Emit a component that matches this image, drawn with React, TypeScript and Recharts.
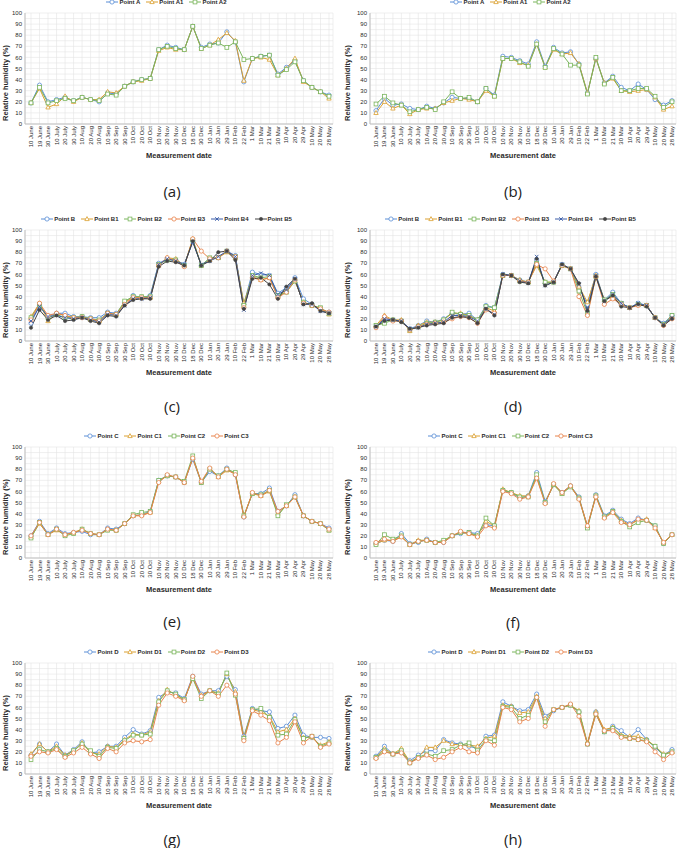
import { LineChart, Line, XAxis, YAxis, CartesianGrid, Legend } from 'recharts';

const dates = [
  '10 June', '19 June', '30 June', '10 July', '20 July', '30 July', '10 Aug', '20 Aug', '30 Aug',
  '10 Sep', '20 Sep', '30 Sep', '10 Oct', '20 Oct', '30 Oct', '10 Nov', '20 Nov', '30 Nov',
  '10 Dec', '18 Dec', '30 Dec', '10 Jan', '20 Jan', '29 Jan', '10 Feb', '22 Feb', '1 Mar',
  '10 Mar', '21 Mar', '30 Mar', '10 Apr', '20 Apr', '29 Apr', '10 May', '20 May', '28 May',
];

const yTicks = [0, 5, 10, 15, 20, 25, 30, 35, 40, 45, 50, 55, 60, 65, 70, 75, 80, 85, 90, 95, 100];

// (a)
const aA = [19, 35, 20, 22, 24, 21, 24, 22, 20, 28, 27, 34, 38, 40, 41, 67, 71, 69, 67, 88, 69, 72, 73, 83, 74, 38, 59, 61, 62, 45, 51, 57, 39, 33, 29, 26];
const aA1 = [19, 32, 15, 18, 25, 20, 24, 22, 22, 29, 28, 34, 38, 39, 41, 66, 69, 67, 67, 88, 68, 71, 76, 82, 75, 39, 59, 60, 58, 44, 50, 59, 38, 33, 29, 23];
const aA2 = [19, 33, 19, 21, 23, 21, 24, 22, 21, 27, 26, 34, 38, 40, 41, 67, 70, 68, 67, 88, 68, 71, 73, 69, 74, 58, 59, 61, 62, 44, 49, 56, 39, 33, 29, 25];

// (b)
const bA = [12, 23, 17, 18, 14, 13, 16, 14, 19, 24, 23, 23, 20, 32, 26, 61, 60, 57, 54, 74, 52, 69, 64, 65, 54, 28, 59, 37, 43, 33, 30, 36, 31, 22, 17, 21];
const bA1 = [10, 20, 14, 17, 9, 13, 14, 14, 19, 21, 23, 22, 20, 30, 25, 59, 59, 55, 53, 72, 51, 67, 63, 64, 54, 28, 59, 37, 41, 30, 29, 30, 31, 24, 13, 16];
const bA2 = [18, 25, 19, 17, 11, 13, 15, 13, 20, 29, 23, 24, 20, 32, 25, 59, 59, 56, 52, 72, 51, 68, 63, 53, 53, 27, 60, 36, 42, 30, 30, 32, 32, 25, 15, 20];

// (c)
const cB = [16, 32, 22, 25, 25, 22, 22, 21, 21, 26, 25, 34, 41, 39, 41, 70, 74, 73, 69, 90, 68, 74, 75, 81, 77, 33, 62, 60, 59, 43, 48, 57, 38, 33, 28, 26];
const cB1 = [22, 34, 18, 25, 23, 21, 22, 19, 18, 25, 24, 35, 39, 39, 39, 68, 75, 74, 68, 92, 68, 73, 75, 80, 75, 34, 58, 55, 57, 40, 45, 54, 35, 32, 29, 24];
const cB2 = [21, 33, 21, 24, 21, 21, 22, 20, 19, 25, 24, 36, 40, 40, 40, 69, 73, 73, 68, 91, 68, 75, 75, 81, 76, 32, 59, 57, 58, 41, 44, 54, 35, 32, 30, 25];
const cB3 = [19, 34, 23, 25, 23, 21, 21, 20, 18, 25, 24, 33, 39, 39, 39, 68, 75, 72, 67, 92, 81, 74, 75, 81, 76, 30, 57, 55, 57, 39, 44, 55, 34, 32, 29, 26];
const cB4 = [18, 31, 22, 23, 21, 20, 21, 19, 17, 24, 23, 32, 38, 38, 39, 69, 74, 72, 69, 89, 69, 72, 76, 81, 76, 28, 59, 61, 59, 42, 46, 56, 33, 33, 27, 25];
const cB5 = [12, 28, 19, 23, 18, 19, 21, 18, 16, 23, 22, 32, 37, 38, 38, 67, 72, 71, 68, 90, 68, 72, 80, 81, 73, 29, 56, 57, 51, 38, 49, 56, 33, 34, 27, 25];

// (d)
const dB = [13, 18, 19, 18, 11, 14, 18, 17, 20, 25, 24, 25, 19, 32, 30, 60, 59, 55, 53, 73, 52, 53, 69, 65, 48, 33, 60, 37, 44, 34, 30, 34, 32, 21, 16, 23];
const dB1 = [14, 23, 19, 19, 9, 14, 17, 17, 19, 25, 25, 23, 19, 30, 27, 59, 59, 55, 53, 68, 53, 53, 68, 65, 49, 35, 59, 37, 40, 33, 30, 33, 32, 21, 15, 22];
const dB2 = [14, 16, 19, 18, 10, 13, 16, 17, 19, 26, 24, 23, 19, 31, 30, 59, 59, 54, 53, 70, 53, 53, 68, 65, 45, 25, 58, 37, 42, 34, 30, 33, 32, 21, 15, 23];
const dB3 = [12, 22, 18, 18, 10, 13, 15, 16, 17, 20, 22, 21, 16, 28, 25, 59, 59, 54, 53, 69, 65, 54, 68, 65, 40, 23, 58, 33, 38, 33, 30, 32, 32, 21, 14, 20];
const dB4 = [13, 20, 19, 18, 11, 12, 15, 16, 17, 23, 23, 22, 18, 29, 24, 60, 59, 54, 52, 76, 50, 53, 69, 65, 51, 29, 59, 36, 42, 34, 30, 34, 32, 21, 15, 21];
const dB5 = [13, 18, 19, 17, 11, 12, 14, 15, 16, 21, 22, 21, 16, 29, 23, 60, 59, 53, 52, 74, 50, 53, 69, 65, 52, 27, 58, 36, 41, 31, 30, 33, 31, 21, 14, 20];

// (e)
const eC = [20, 33, 22, 27, 22, 23, 24, 21, 21, 27, 26, 31, 38, 39, 42, 70, 74, 73, 68, 89, 68, 78, 74, 81, 75, 37, 58, 58, 63, 42, 47, 57, 38, 33, 31, 27];
const eC1 = [19, 31, 21, 25, 21, 23, 26, 22, 21, 26, 25, 31, 38, 39, 41, 69, 74, 73, 68, 90, 68, 80, 73, 79, 76, 38, 58, 56, 60, 40, 47, 55, 38, 33, 31, 25];
const eC2 = [18, 32, 21, 26, 20, 22, 26, 22, 21, 25, 25, 31, 39, 41, 42, 70, 74, 73, 69, 92, 68, 80, 74, 80, 77, 38, 58, 57, 61, 38, 48, 55, 38, 33, 31, 25];
const eC3 = [20, 32, 21, 26, 21, 23, 25, 22, 21, 26, 25, 31, 38, 38, 41, 68, 75, 73, 68, 90, 69, 81, 73, 80, 75, 37, 59, 56, 61, 42, 47, 55, 38, 33, 31, 26];

// (f)
const fC = [13, 16, 15, 22, 13, 14, 17, 14, 14, 20, 22, 23, 22, 30, 29, 61, 59, 54, 56, 77, 51, 66, 59, 65, 55, 28, 57, 38, 43, 35, 31, 36, 34, 29, 13, 21];
const fC1 = [13, 16, 16, 19, 12, 16, 16, 14, 15, 20, 23, 22, 20, 33, 29, 62, 59, 56, 56, 73, 50, 66, 58, 65, 54, 29, 56, 37, 42, 34, 30, 34, 35, 27, 14, 21];
const fC2 = [12, 21, 17, 20, 12, 15, 16, 14, 16, 20, 23, 23, 20, 36, 29, 61, 59, 55, 55, 75, 50, 66, 58, 64, 54, 27, 56, 37, 42, 33, 28, 32, 34, 29, 13, 21];
const fC3 = [14, 17, 15, 19, 12, 15, 16, 14, 14, 20, 24, 22, 19, 29, 27, 60, 58, 53, 55, 72, 49, 67, 59, 65, 53, 29, 55, 36, 41, 32, 30, 35, 34, 27, 14, 21];

// (g)
const gD = [17, 27, 20, 27, 17, 22, 29, 19, 20, 25, 25, 33, 40, 36, 39, 69, 74, 73, 68, 88, 72, 75, 75, 88, 76, 34, 59, 57, 56, 41, 43, 53, 35, 33, 33, 32];
const gD1 = [18, 27, 20, 25, 17, 21, 28, 19, 18, 25, 24, 31, 36, 35, 38, 66, 76, 71, 67, 86, 71, 75, 73, 90, 74, 33, 58, 56, 52, 38, 40, 50, 33, 33, 26, 29];
const gD2 = [13, 22, 20, 23, 16, 21, 27, 21, 16, 24, 23, 30, 35, 35, 36, 65, 75, 72, 67, 86, 68, 75, 72, 91, 71, 32, 58, 59, 51, 35, 36, 49, 32, 34, 25, 28];
const gD3 = [16, 20, 19, 22, 15, 19, 24, 18, 14, 23, 20, 28, 30, 29, 31, 62, 73, 70, 66, 88, 70, 75, 70, 80, 72, 30, 57, 53, 48, 28, 33, 47, 28, 34, 24, 27];

// (h)
const hD = [16, 25, 18, 20, 12, 17, 21, 21, 31, 28, 27, 25, 23, 34, 35, 65, 61, 57, 58, 72, 52, 57, 60, 62, 56, 27, 56, 38, 43, 39, 33, 40, 31, 24, 17, 22];
const hD1 = [15, 23, 18, 23, 11, 15, 24, 24, 30, 27, 26, 26, 25, 32, 34, 62, 61, 55, 56, 70, 50, 58, 60, 62, 57, 28, 56, 40, 42, 35, 34, 34, 31, 25, 18, 20];
const hD2 = [15, 21, 18, 21, 10, 15, 18, 16, 21, 22, 26, 28, 21, 31, 30, 61, 60, 50, 53, 69, 47, 58, 60, 62, 56, 27, 54, 38, 41, 34, 32, 31, 30, 25, 17, 20];
const hD3 = [14, 20, 18, 19, 10, 14, 17, 13, 15, 20, 24, 20, 19, 30, 26, 60, 58, 47, 50, 69, 43, 58, 60, 63, 52, 27, 54, 39, 39, 33, 32, 31, 29, 20, 13, 19];

const FONT = '"Liberation Sans", Arial, sans-serif';
const BLUE = '#5b8ed6';
const GOLD = '#dba030';
const GREEN = '#7ab55c';
const ORANGE = '#e8824a';
const NAVY = '#3a5ca8';
const DARK = '#444444';
const TXT = '#2a2a2a';

type Shape = 'circle' | 'triangle' | 'square' | 'x' | 'dot';
type Series = { name: string; values: number[]; color: string; shape: Shape };

function marker(shape: Shape, color: string, cx: number, cy: number, key?: any) {
  if (shape === 'circle')
    return <circle key={key} cx={cx} cy={cy} r={2.1} fill="#fff" stroke={color} strokeWidth={0.8} />;
  if (shape === 'triangle')
    return (
      <polygon key={key} points={`${cx},${cy - 2.4} ${cx + 2.2},${cy + 1.6} ${cx - 2.2},${cy + 1.6}`}
        fill="#fff" stroke={color} strokeWidth={0.8} />
    );
  if (shape === 'square')
    return <rect key={key} x={cx - 1.9} y={cy - 1.9} width={3.8} height={3.8} fill="#fff" stroke={color} strokeWidth={0.8} />;
  if (shape === 'x')
    return (
      <path key={key} d={`M${cx - 1.8},${cy - 1.8}L${cx + 1.8},${cy + 1.8}M${cx - 1.8},${cy + 1.8}L${cx + 1.8},${cy - 1.8}`}
        stroke={color} strokeWidth={0.9} />
    );
  return <circle key={key} cx={cx} cy={cy} r={1.7} fill={color} stroke={color} strokeWidth={0.5} />;
}

const makeDot = (s: Series) => (p: any) => {
  if (p.cx == null || p.cy == null) return <g key={p.index} />;
  return marker(s.shape, s.color, p.cx, p.cy, p.index);
};

const XTick = (p: any) => (
  <text x={p.x} y={p.y} transform={`rotate(-90 ${p.x} ${p.y})`} textAnchor="end" dominantBaseline="central"
    fontSize={6} fill={TXT} fontFamily={FONT}>
    {p.payload.value}
  </text>
);

function LegendRow({ series }: { series: Series[] }) {
  return (
    <div style={{ display: 'flex', justifyContent: 'center', alignItems: 'center', height: 12, gap: 6,
      fontFamily: FONT, fontSize: 6, fontWeight: 'bold', color: TXT }}>
      {series.map((s) => (
        <div key={s.name} style={{ display: 'flex', alignItems: 'center' }}>
          <svg width={12} height={6}>
            <line x1={0} y1={3} x2={12} y2={3} stroke={s.color} strokeWidth={1} />
            {marker(s.shape, s.color, 6, 3)}
          </svg>
          <span style={{ marginLeft: 1 }}>{s.name}</span>
        </div>
      ))}
    </div>
  );
}

type PanelProps = {
  series: Series[]; left: number; top: number; width: number;
  ml: number; mr: number; yTitleX: number; tag: string; tagX: number; tagY: number;
};

function Panel({ series, left, top, width, ml, mr, yTitleX, tag, tagX, tagY }: PanelProps) {
  const rows = dates.map((d, i) => {
    const r: any = { date: d };
    series.forEach((s) => { r[s.name] = s.values[i]; });
    return r;
  });
  return (
    <>
      <div style={{ position: 'absolute', left, top }}>
        <LineChart width={width} height={164} data={rows} margin={{ top: 1, right: mr, bottom: 0, left: ml }}>
          <CartesianGrid stroke="#e4e4e4" strokeWidth={0.6} />
          <XAxis dataKey="date" interval={0} tick={XTick} tickLine={false} tickSize={0} tickMargin={2}
            axisLine={{ stroke: '#bfbfbf' }} height={40} padding={{ left: 6, right: 4 }}
            label={(lp: any) => {
              const vb = lp.viewBox;
              return (
                <text x={vb.x + vb.width / 2} y={vb.y + 31} textAnchor="middle" dominantBaseline="central"
                  fontFamily={FONT} fontSize={7.5} fontWeight="bold" fill={TXT}>Measurement date</text>
              );
            }} />
          <XAxis xAxisId="top" orientation="top" dataKey="date" tick={false} tickLine={false} height={0}
            axisLine={{ stroke: '#bfbfbf' }} />
          <YAxis domain={[0, 100]} ticks={yTicks} interval={0} width={25} tickLine={false} tickSize={0} tickMargin={3}
            tickFormatter={(v: number) => (v % 10 === 0 ? String(v) : '')}
            tick={{ fontSize: 6, fill: TXT, fontFamily: FONT }} axisLine={{ stroke: '#bfbfbf' }}
            label={(lp: any) => {
              const vb = lp.viewBox;
              const cy = vb.y + 70;
              return (
                <text x={yTitleX} y={cy} transform={`rotate(-90 ${yTitleX} ${cy})`} textAnchor="middle"
                  dominantBaseline="central" fontFamily={FONT} fontSize={7.5} fontWeight="bold" fill={TXT}>
                  Relative humidity (%)
                </text>
              );
            }} />
          <YAxis yAxisId="r" orientation="right" domain={[0, 100]} tick={false} tickLine={false} width={0}
            axisLine={{ stroke: '#bfbfbf' }} />
          <Legend verticalAlign="top" height={12} wrapperStyle={{ top: -4 }}
            content={() => <LegendRow series={series} />} />
          {series.map((s) => (
            <Line key={s.name} dataKey={s.name} type="linear" stroke={s.color} strokeWidth={1}
              dot={makeDot(s)} activeDot={false} isAnimationActive={false} />
          ))}
        </LineChart>
      </div>
      <div style={{ position: 'absolute', left: tagX - 30, width: 60, top: tagY - 11, textAlign: 'center',
        fontFamily: '"Open Sans", sans-serif', fontSize: 15, color: '#222' }}>
        {tag}
      </div>
    </>
  );
}

const sA = (a: number[], a1: number[], a2: number[]): Series[] => [
  { name: 'Point A', values: a, color: BLUE, shape: 'circle' },
  { name: 'Point A1', values: a1, color: GOLD, shape: 'triangle' },
  { name: 'Point A2', values: a2, color: GREEN, shape: 'square' },
];
const sB = (v: number[][]): Series[] => [
  { name: 'Point B', values: v[0], color: BLUE, shape: 'circle' },
  { name: 'Point B1', values: v[1], color: GOLD, shape: 'triangle' },
  { name: 'Point B2', values: v[2], color: GREEN, shape: 'square' },
  { name: 'Point B3', values: v[3], color: ORANGE, shape: 'circle' },
  { name: 'Point B4', values: v[4], color: NAVY, shape: 'x' },
  { name: 'Point B5', values: v[5], color: DARK, shape: 'dot' },
];
const s4 = (p: string, v: number[][]): Series[] => [
  { name: `Point ${p}`, values: v[0], color: BLUE, shape: 'circle' },
  { name: `Point ${p}1`, values: v[1], color: GOLD, shape: 'triangle' },
  { name: `Point ${p}2`, values: v[2], color: GREEN, shape: 'square' },
  { name: `Point ${p}3`, values: v[3], color: ORANGE, shape: 'circle' },
];

export default function App() {
  const L = { left: 0, width: 338, ml: 0, mr: 5, yTitleX: 5, tagX: 172 };
  const R = { left: 338, width: 339, ml: 7, mr: 1, yTitleX: 9, tagX: 513 };
  return (
    <div style={{ position: 'absolute', left: 0, top: 0, width: 677, height: 848, background: '#fff', fontFamily: FONT }}>
      <Panel {...L} top={0} series={sA(aA, aA1, aA2)} tag="(a)" tagY={192} />
      <Panel {...R} top={0} series={sA(bA, bA1, bA2)} tag="(b)" tagY={192} />
      <Panel {...L} top={217} series={sB([cB, cB1, cB2, cB3, cB4, cB5])} tag="(c)" tagY={407} />
      <Panel {...R} top={217} series={sB([dB, dB1, dB2, dB3, dB4, dB5])} tag="(d)" tagY={407} />
      <Panel {...L} top={434} series={s4('C', [eC, eC1, eC2, eC3])} tag="(e)" tagY={622} />
      <Panel {...R} top={434} series={s4('C', [fC, fC1, fC2, fC3])} tag="(f)" tagY={623} />
      <Panel {...L} top={650} series={s4('D', [gD, gD1, gD2, gD3])} tag="(g)" tagY={840} />
      <Panel {...R} top={650} series={s4('D', [hD, hD1, hD2, hD3])} tag="(h)" tagY={840} />
    </div>
  );
}
